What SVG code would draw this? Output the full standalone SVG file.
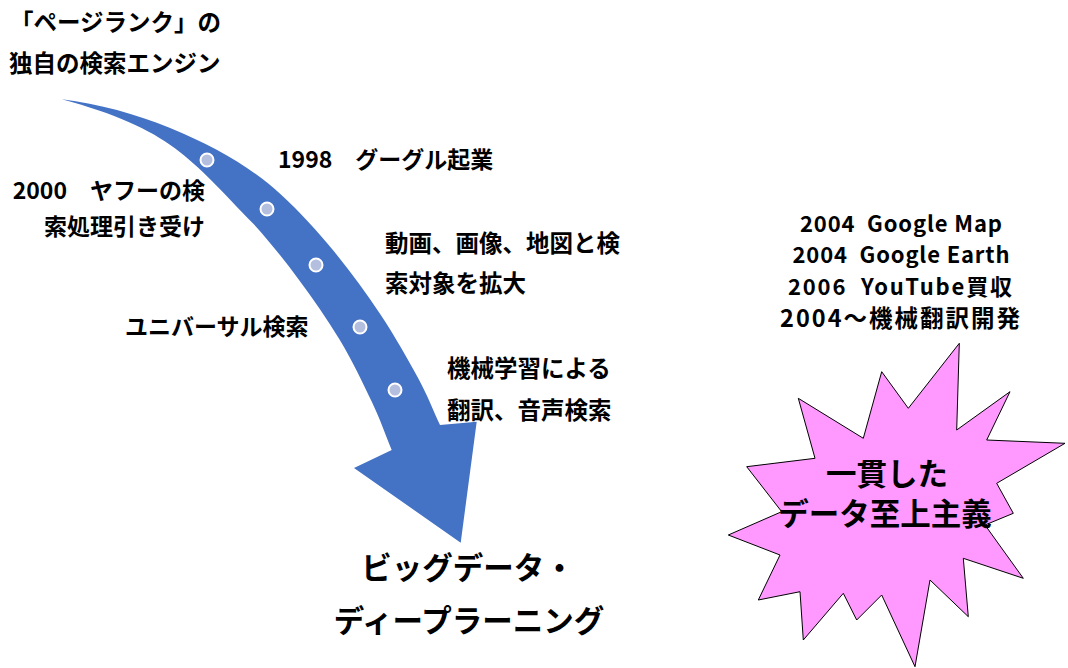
<svg xmlns="http://www.w3.org/2000/svg" width="1068" height="668" viewBox="0 0 1068 668">
<style>
.t{font-family:"Noto Sans CJK JP","Noto Sans",sans-serif;font-weight:700;fill:#000;}
.s{font-size:23.5px;}
.s2{font-size:23px;}
.m{font-size:22px;white-space:pre;}
.m2{font-size:23.5px;}
.b{font-size:30.5px;}
.dot{fill:#B4BFE0;stroke:#FFFFFF;stroke-width:2;}
</style>
<rect width="1068" height="668" fill="#FFFFFF"/>
<g id="connectors">
<path id="timeline-arrow" fill="#4472C4" d="M61.7,99.3 C151.7,110.1 241.3,156.4 280.9,194.6 C300.4,212.3 317.1,231.2 333.7,251.1 C350.3,271 366.2,293 380.3,314.2 C394.4,335.4 408.2,359.7 418.2,378.2 C428.2,396.7 432.7,409.4 440,425 L476.7,421.7 L460.7,542.7 L354,468 L391.7,450 C385.1,433.9 380.5,420.2 371.8,401.8 C363.1,383.4 352,360.3 339.7,339.8 C327.4,319.3 312.7,298.3 298.3,278.9 C283.9,259.5 268.7,240.4 253.1,223.4 C190.1,159.1 171.7,129 61.7,99.3 Z"/>
<circle class="dot" cx="207" cy="160" r="6.5"/>
<circle class="dot" cx="267" cy="209" r="6.5"/>
<circle class="dot" cx="316" cy="265" r="6.5"/>
<circle class="dot" cx="360" cy="327" r="6.5"/>
<circle class="dot" cx="395" cy="390" r="6.5"/>
</g>
<g id="node-pagerank">
<text class="t s" x="10" y="31">「ページランク」の</text>
<text class="t s" x="9" y="72">独自の検索エンジン</text>
</g>
<g id="node-1998">
<text class="t s2" x="278" y="168">1998　グーグル起業</text>
</g>
<g id="node-2000">
<text class="t s2" x="205" y="199" text-anchor="end">2000　ヤフーの検</text>
<text class="t s2" x="205" y="235" text-anchor="end">索処理引き受け</text>
</g>
<g id="node-media">
<text class="t s" x="385" y="252">動画、画像、地図と検</text>
<text class="t s" x="385" y="292">索対象を拡大</text>
</g>
<g id="node-universal">
<text class="t s2" x="125" y="335">ユニバーサル検索</text>
</g>
<g id="node-ml">
<text class="t s" x="447" y="377">機械学習による</text>
<text class="t s" x="447" y="419">翻訳、音声検索</text>
</g>
<g id="node-bigdata">
<text class="t b" x="468" y="579" text-anchor="middle">ビッグデータ・</text>
<text class="t b" x="469" y="632" text-anchor="middle">ディープラーニング</text>
</g>
<g id="node-history">
<text class="t m" x="901" y="232" text-anchor="middle" textLength="202" lengthAdjust="spacing">2004  Google Map</text>
<text class="t m" x="901" y="263" text-anchor="middle" textLength="217" lengthAdjust="spacing">2004  Google Earth</text>
<text class="t m" x="900" y="295" text-anchor="middle" textLength="224" lengthAdjust="spacing">2006  YouTube買収</text>
<text class="t m m2" x="900" y="327" text-anchor="middle" textLength="240" lengthAdjust="spacing">2004～機械翻訳開発</text>
</g>
<g id="node-starburst">
<polygon fill="#FF99FF" stroke="#000000" stroke-width="1" stroke-linejoin="miter" points="959.3,343.3 956.7,430 1010,391.7 986.7,440 1065,443.3 996.7,483.3 1013.3,513.3 985,525 1023.3,578.3 963.3,558.3 968.3,616.7 930,580 915,666.7 881.7,595 856.7,620 843.3,593.3 803.3,640 800,591.7 758.3,600 780,555 728.3,535 781.7,511.7 746.7,466.7 815,458.3 798.3,398.3 863.3,438.3 881.7,371.7 908.3,408.3"/>
<text class="t b" x="887" y="485" text-anchor="middle">一貫した</text>
<text class="t b" x="885" y="525" text-anchor="middle">データ至上主義</text>
</g>
</svg>
